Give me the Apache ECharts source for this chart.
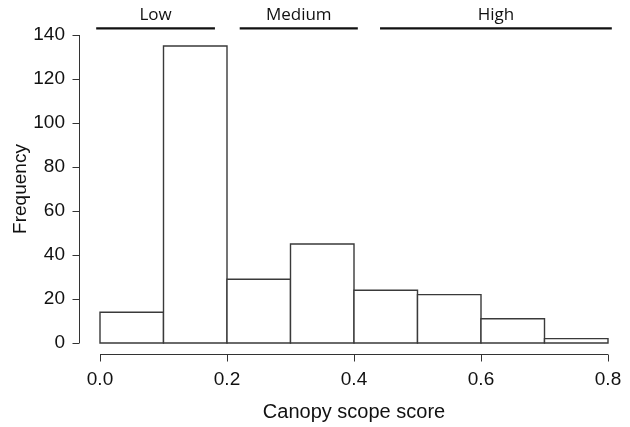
<!DOCTYPE html>
<html>
<head>
<meta charset="utf-8">
<script src="https://cdn.jsdelivr.net/npm/echarts@6/dist/echarts.min.js"></script>
<style>
  html, body { margin: 0; padding: 0; background: #fff; }
  #chart { width: 630px; height: 427px; }
</style>
</head>
<body>
<div id="chart"></div>
<script>
// histogram bins (Canopy scope score) and their counts
const binStarts = [0.0, 0.1, 0.2, 0.3, 0.4, 0.5, 0.6, 0.7];
const binEnds = [0.1, 0.2, 0.3, 0.4, 0.5, 0.6, 0.7, 0.8];
const counts = [14, 135, 29, 45, 24, 22, 11, 2];

// category bands drawn above the plot
const rangeLabels = ["Low", "Medium", "High"];
const rangeStarts = [-0.006, 0.22, 0.441];
const rangeEnds = [0.181, 0.406, 0.806];
const rangeLevel = 143;

// axis ticks
const xTicks = [0.0, 0.2, 0.4, 0.6, 0.8];
const yTicks = [0, 20, 40, 60, 80, 100, 120, 140];

const xMin = 0, xMax = 0.8;
const yMin = 0, yMax = 140;
const xOffset = 11, yOffset = 21, tickLen = 7;

const chart = echarts.init(document.getElementById("chart"), null, { renderer: "canvas" });

const bars = binStarts.map((s, i) => [s, binEnds[i], counts[i]]);
const ranges = rangeLabels.map((name, i) => [rangeStarts[i], rangeEnds[i], rangeLevel, name]);

const axisColor = "#333";
const textColor = "#111";

chart.setOption({
  animation: false,
  backgroundColor: "#ffffff",
  grid: { left: 100, right: 22, top: 35, bottom: 84, outerBoundsMode: "none", containLabel: false },
  xAxis: {
    type: "value",
    min: xMin,
    max: xMax,
    interval: 0.2,
    offset: xOffset,
    name: "Canopy scope score",
    nameLocation: "middle",
    nameGap: 48,
    nameMoveOverlap: false,
    nameTextStyle: { color: textColor, fontSize: 20, fontFamily: "Liberation Sans" },
    axisLine: { show: false },
    axisTick: { show: false },
    axisLabel: {
      color: textColor,
      fontSize: 19,
      fontFamily: "Liberation Sans",
      margin: 16,
      formatter: v => v.toFixed(1)
    },
    splitLine: { show: false }
  },
  yAxis: {
    type: "value",
    min: yMin,
    max: yMax,
    interval: 20,
    offset: yOffset,
    name: "Frequency",
    nameLocation: "middle",
    nameGap: 49,
    nameMoveOverlap: false,
    nameTextStyle: { color: textColor, fontSize: 19, fontFamily: "Liberation Sans" },
    axisLine: { show: false },
    axisTick: { show: false },
    axisLabel: { color: textColor, fontSize: 19, fontFamily: "Liberation Sans", margin: 14 },
    splitLine: { show: false }
  },
  series: [
    {
      // detached axis lines and ticks (R-style base plot)
      type: "custom",
      clip: false,
      silent: true,
      z: 10,
      data: [[xMin, yMin]],
      renderItem(params, api) {
        const lo = api.coord([xMin, yMin]);
        const hi = api.coord([xMax, yMax]);
        const st = { stroke: axisColor, lineWidth: 1 };
        const ax = Math.round(lo[0] - yOffset) + 0.5;
        const ay = Math.round(lo[1] + xOffset) + 0.5;
        const children = [
          { type: "line", shape: { x1: lo[0], y1: ay, x2: hi[0], y2: ay }, style: st },
          { type: "line", shape: { x1: ax, y1: lo[1], x2: ax, y2: hi[1] }, style: st }
        ];
        xTicks.forEach(t => {
          const x = Math.round(api.coord([t, yMin])[0]) + 0.5;
          children.push({ type: "line", shape: { x1: x, y1: ay, x2: x, y2: ay + tickLen }, style: st });
        });
        yTicks.forEach(t => {
          const y = Math.round(api.coord([xMin, t])[1]) + 0.5;
          children.push({ type: "line", shape: { x1: ax, y1: y, x2: ax - tickLen, y2: y }, style: st });
        });
        return { type: "group", children };
      }
    },
    {
      type: "custom",
      data: bars,
      renderItem(params, api) {
        const p0 = api.coord([api.value(0), 0]);
        const p1 = api.coord([api.value(1), api.value(2)]);
        return {
          type: "rect",
          shape: { x: p0[0], y: p1[1], width: p1[0] - p0[0], height: p0[1] - p1[1] },
          style: { fill: "#ffffff", stroke: "#3a3a3a", lineWidth: 1.4 }
        };
      }
    },
    {
      type: "custom",
      clip: false,
      data: ranges,
      renderItem(params, api) {
        const a = api.coord([api.value(0), api.value(2)]);
        const b = api.coord([api.value(1), api.value(2)]);
        return {
          type: "group",
          children: [
            {
              type: "line",
              shape: { x1: a[0], y1: a[1], x2: b[0], y2: b[1] },
              style: { stroke: "#111", lineWidth: 2.4 }
            },
            {
              type: "text",
              style: {
                x: (a[0] + b[0]) / 2,
                y: a[1] - 5,
                text: ranges[params.dataIndex][3],
                textAlign: "center",
                textVerticalAlign: "bottom",
                fill: textColor,
                font: "17px 'Open Sans'"
              }
            }
          ]
        };
      }
    }
  ]
});
</script>
</body>
</html>
